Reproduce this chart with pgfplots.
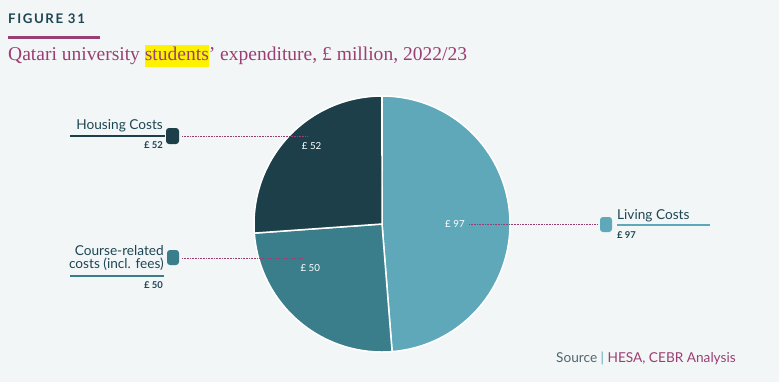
\documentclass[border=0pt]{standalone}
\usepackage{pgfplots}
\pgfplotsset{compat=1.18}
\usepackage{pgfplotstable}
\usepackage{fontspec}
\setmainfont{Lato}
\newfontfamily\titlefont{Liberation Serif}
\definecolor{bg}{HTML}{F3F6F7}
\definecolor{living}{HTML}{5FA8BA}
\definecolor{course}{HTML}{3A7E8C}
\definecolor{housing}{HTML}{1C3F4A}
\definecolor{plum}{HTML}{9A3F73}
\definecolor{darkteal}{HTML}{1E4652}
\definecolor{srcgrey}{HTML}{4E6670}
\definecolor{hl}{HTML}{FFF200}

\pgfplotstableread{
label value
Living 97
Course 50
Housing 52
}\datatable
\pgfplotstablegetelem{0}{value}\of\datatable \edef\vA{\pgfplotsretval}
\pgfplotstablegetelem{1}{value}\of\datatable \edef\vB{\pgfplotsretval}
\pgfplotstablegetelem{2}{value}\of\datatable \edef\vC{\pgfplotsretval}
\pgfmathsetmacro\total{\vA+\vB+\vC}
\pgfmathsetmacro\aA{90-\vA/\total*360}
\pgfmathsetmacro\aB{\aA-\vB/\total*360}
\pgfmathsetmacro\aC{\aB-\vC/\total*360}

\begin{document}
\begin{tikzpicture}[x=1bp,y=-1bp]
\fill[bg] (0,0) rectangle (779,382);
% header
\node[anchor=base west, inner sep=0, text=darkteal, font=\fontsize{13.3}{15}\selectfont\bfseries\addfontfeatures{LetterSpace=12}] at (8,23) {FIGURE 31};
\draw[plum, line width=3bp] (8,37) -- (100,37);
\node[anchor=base west, inner sep=0, text=plum, font=\titlefont\fontsize{19.6}{22}\selectfont] at (8,60)
  {Qatari university \setlength{\fboxsep}{0pt}\colorbox{hl}{\strut students}’ expenditure, £ million, 2022/23};

\begin{axis}[at={(382bp,-224bp)}, anchor=center, scale only axis, width=256bp, height=256bp,
  xmin=-1, xmax=1, ymin=-1, ymax=1, hide axis, clip=false]
\addplot[fill=living, draw=white, line width=1.5pt, domain=\aA:90, samples=90] ({cos(x)},{sin(x)}) -- (axis cs:0,0) -- cycle;
\addplot[fill=course, draw=white, line width=1.5pt, domain=\aB:\aA, samples=60] ({cos(x)},{sin(x)}) -- (axis cs:0,0) -- cycle;
\addplot[fill=housing, draw=white, line width=1.5pt, domain=\aC:\aB, samples=60] ({cos(x)},{sin(x)}) -- (axis cs:0,0) -- cycle;
\node[text=white, font=\fontsize{9.8}{11}\selectfont] at (axis cs:0.57,0) {£ \vA};
\node[text=white, font=\fontsize{9.8}{11}\selectfont] at (axis cs:-0.56,-0.34) {£ \vB};
\node[text=white, font=\fontsize{9.8}{11}\selectfont] at (axis cs:-0.55,0.61) {£ \vC};
\end{axis}

% dotted leader lines
\draw[plum, densely dotted, line width=0.6bp] (182,136) -- (308,136);
\draw[plum, densely dotted, line width=0.6bp] (182,258) -- (302,258);
\draw[plum, densely dotted, line width=0.6bp] (469,224) -- (597,224);
% markers
\fill[housing, rounded corners=3bp] (166,128) rectangle (179,144);
\fill[course, rounded corners=3bp] (167,250) rectangle (179,265);
\fill[living, rounded corners=3bp] (600,217) rectangle (612,232);
% Housing label
\node[anchor=base east, inner sep=0, text=darkteal, font=\fontsize{13.7}{15}\selectfont] at (163,129) {Housing Costs};
\draw[housing, line width=1.8bp] (70,136) -- (165,136);
\node[anchor=base east, inner sep=0, text=darkteal, font=\fontsize{9.5}{11}\selectfont\bfseries] at (163,148) {£ \vC};
% Course label
\node[anchor=base east, inner sep=0, text=darkteal, font=\fontsize{13.7}{15}\selectfont] at (164,255) {Course-related};
\node[anchor=base east, inner sep=0, text=darkteal, font=\fontsize{13.7}{15}\selectfont] at (164,268) {costs (incl. fees)};
\draw[course, line width=1.8bp] (70,276) -- (164,276);
\node[anchor=base east, inner sep=0, text=darkteal, font=\fontsize{9.5}{11}\selectfont\bfseries] at (163,288.5) {£ \vB};
% Living label
\node[anchor=base west, inner sep=0, text=darkteal, font=\fontsize{13.7}{15}\selectfont] at (617,219) {Living Costs};
\draw[living, line width=1.8bp] (617,225) -- (710,225);
\node[anchor=base west, inner sep=0, text=darkteal, font=\fontsize{9.5}{11}\selectfont\bfseries] at (617,238.5) {£ \vA};
% source
\node[anchor=base west, inner sep=0, font=\fontsize{13.7}{15}\selectfont] at (556,362)
  {\textcolor{srcgrey}{Source} \textcolor{living}{|} \textcolor{plum}{HESA, CEBR Analysis}};
\pgfresetboundingbox
\path[use as bounding box] (0,0) rectangle (779,382);
\end{tikzpicture}
\end{document}
